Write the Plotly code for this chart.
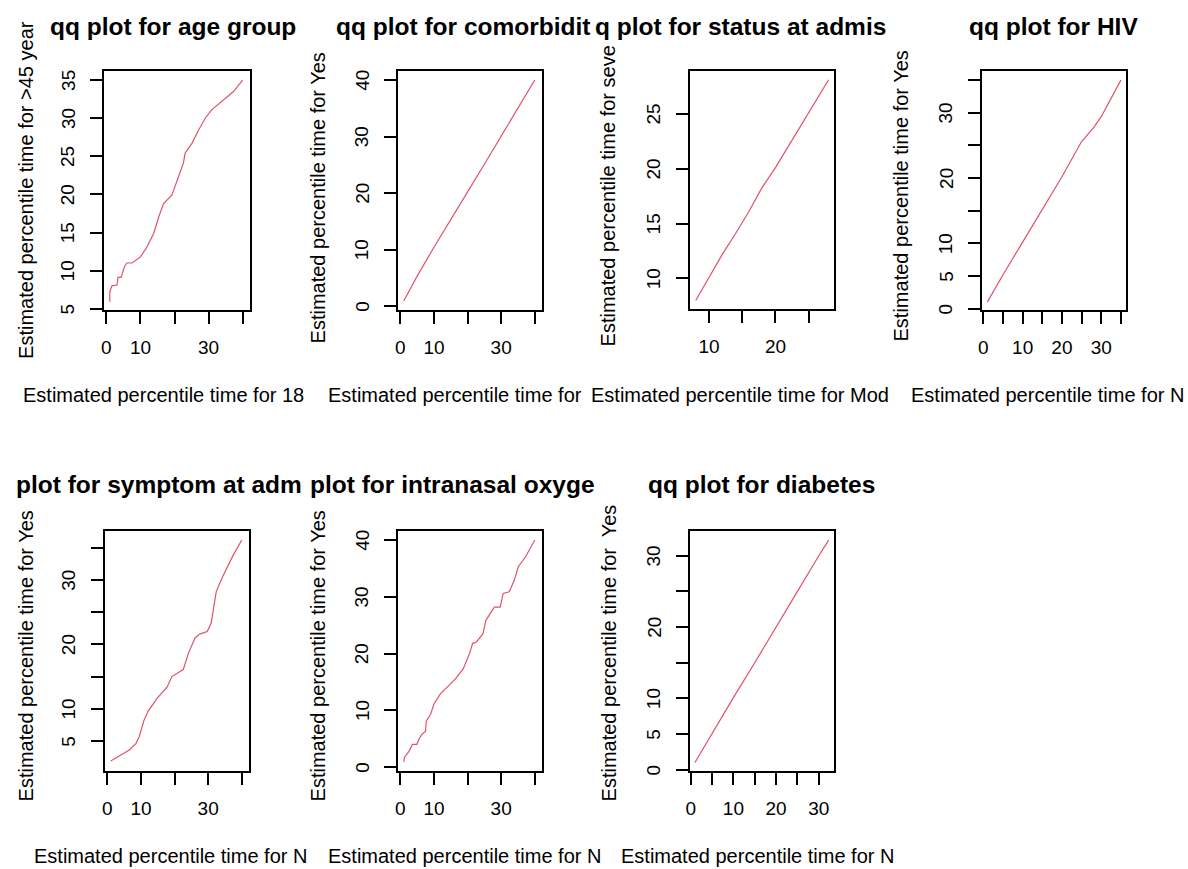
import plotly.graph_objects as go

W, H = 1188, 869
FONT = "Liberation Sans, Arial, sans-serif"
LINE_COLOR = "#DF536B"

# ---------------- data ----------------
age_x = [1.0, 1.0, 1.6, 3.1, 3.4, 4.3, 5.3, 6.0, 7.5, 10.0, 11.9, 13.9, 15.4, 16.8,
         19.2, 20.7, 22.6, 23.1, 25.1, 27.0, 29.0, 30.9, 33.9, 37.3, 40.0]
age_y = [5.9, 7.2, 8.0, 8.1, 9.1, 9.1, 10.5, 11.0, 11.0, 11.8, 13.1, 14.9, 17.1, 18.8,
         19.9, 21.7, 24.1, 25.4, 26.7, 28.4, 30.0, 31.1, 32.2, 33.5, 35.0]

comorb_x = [1, 5, 10, 15, 20, 25, 30, 35, 40]
comorb_y = [0.9, 5.3, 10.4, 15.2, 20.2, 25.1, 30.0, 35.0, 40.0]

status_x = [8, 10, 12, 14, 16, 18, 20, 22, 24, 26, 28]
status_y = [8.0, 10.1, 12.2, 14.1, 16.1, 18.3, 20.1, 22.1, 24.1, 26.1, 28.1]

hiv_x = [1, 5, 10, 15, 20, 25, 28, 30, 35]
hiv_y = [1.0, 5.2, 10.2, 15.1, 20.2, 25.6, 27.7, 29.4, 35.0]

symptom_x = [1.0, 4.1, 6.5, 8.5, 9.5, 10.9, 12.1, 14.8, 17.8, 19.2, 20.7, 22.6, 24.1,
             26.1, 27.5, 29.7, 30.9, 31.6, 32.4, 34.3, 37.3, 40.0]
symptom_y = [1.9, 2.8, 3.6, 4.6, 5.7, 8.2, 9.6, 11.6, 13.4, 15.0, 15.5, 16.1, 18.6,
             21.0, 21.6, 22.0, 23.3, 25.9, 28.2, 30.5, 33.7, 36.2]

oxygen_x = [1.0, 1.2, 2.6, 3.6, 4.9, 5.6, 6.5, 7.5, 7.7, 9.0, 10.0, 11.9, 14.3, 16.3,
            18.7, 19.7, 20.7, 21.5, 22.6, 24.6, 25.4, 27.0, 28.0, 29.7, 30.6, 32.4,
            33.9, 35.1, 37.3, 40.0]
oxygen_y = [0.9, 1.7, 2.8, 4.0, 4.0, 5.0, 5.8, 6.3, 8.1, 9.3, 11.1, 12.9, 14.3, 15.5,
            17.3, 18.8, 20.2, 21.8, 22.0, 23.5, 25.8, 27.3, 28.2, 28.2, 30.6, 30.9,
            32.9, 35.3, 37.1, 40.0]

diab_x = [1, 5, 10, 15, 20, 25, 30, 32.3]
diab_y = [1.0, 5.1, 10.1, 15.0, 20.1, 25.0, 30.0, 32.2]

titles = ["qq plot for age group", "qq plot for comorbidit", "q plot for status at admis",
          "qq plot for HIV", "plot for symptom at adm", "plot for intranasal oxyge",
          "qq plot for diabetes"]
xtitles = ["Estimated percentile time for 18", "Estimated percentile time for",
           "Estimated percentile time for Mod", "Estimated percentile time for N",
           "Estimated percentile time for N", "Estimated percentile time for N",
           "Estimated percentile time for N"]
ytitles = ["Estimated percentile time for >45 year", "Estimated percentile time for Yes",
           "Estimated percentile time for seve", "Estimated percentile time for Yes",
           "Estimated percentile time for Yes", "Estimated percentile time for Yes",
           "Estimated percentile time for  Yes"]

# tick values and the labels R managed to print
x_ticks_40 = [0, 10, 20, 30, 40]
x_labels_40 = ["0", "10", "", "30", ""]
y_ticks_35 = [5, 10, 15, 20, 25, 30, 35]
y_labels_35 = ["5", "10", "15", "20", "25", "30", "35"]
y_ticks_40 = [0, 10, 20, 30, 40]
y_labels_40 = ["0", "10", "20", "30", "40"]
status_ticks = [10, 15, 20, 25]
status_xlabels = ["10", "", "20", ""]
status_ylabels = ["10", "15", "20", "25"]
ticks_by5_35 = [0, 5, 10, 15, 20, 25, 30, 35]
hiv_xlabels = ["0", "", "10", "", "20", "", "30", ""]
hiv_ylabels = ["0", "5", "10", "", "20", "", "30", ""]
symptom_yticks = [5, 10, 15, 20, 25, 30, 35]
symptom_ylabels = ["5", "10", "", "20", "", "30", ""]
ticks_by5_30 = [0, 5, 10, 15, 20, 25, 30]
diab_xlabels = ["0", "", "10", "", "20", "", "30"]
diab_ylabels = ["0", "5", "10", "", "20", "", "30"]

# ---------------- layout geometry (pixels) ----------------
panels = [
    dict(x=age_x, y=age_y, box=(100, 247, 71, 310), xr=[-0.8, 42.2], yr=[4.83, 36.2],
         xt=(x_ticks_40, x_labels_40), yt=(y_ticks_35, y_labels_35)),
    dict(x=comorb_x, y=comorb_y, box=(395, 540, 71, 310), xr=[-0.8, 42.2], yr=[-0.7, 41.6],
         xt=(x_ticks_40, x_labels_40), yt=(y_ticks_40, y_labels_40)),
    dict(x=status_x, y=status_y, box=(688, 833, 71, 309), xr=[7.09, 28.84], yr=[7.22, 28.9],
         xt=(status_ticks, status_xlabels), yt=(status_ticks, status_ylabels)),
    dict(x=hiv_x, y=hiv_y, box=(981, 1126, 71, 310), xr=[-0.42, 36.36], yr=[-0.2, 36.4],
         xt=(ticks_by5_35, hiv_xlabels), yt=(ticks_by5_35, hiv_ylabels)),
    dict(x=symptom_x, y=symptom_y, box=(101, 246, 531, 771), xr=[-0.8, 42.2], yr=[0.34, 37.6],
         xt=(x_ticks_40, x_labels_40), yt=(symptom_yticks, symptom_ylabels)),
    dict(x=oxygen_x, y=oxygen_y, box=(395, 540, 531, 771), xr=[-0.8, 42.2], yr=[-0.7, 41.6],
         xt=(x_ticks_40, x_labels_40), yt=(y_ticks_40, y_labels_40)),
    dict(x=diab_x, y=diab_y, box=(688, 833, 531, 771), xr=[-0.23, 33.6], yr=[-0.19, 33.47],
         xt=(ticks_by5_30, diab_xlabels), yt=(ticks_by5_30, diab_ylabels)),
]

# title / axis-title placement (pixels)
title_pos = [(44, 26, "left"), (331, 26, "left"), (591, 26, "left"), (1053.5, 26, "center"),
             (10, 484, "left"), (305, 484, "left"), (760.5, 484, "center")]
xtitle_pos = [(17, 395), (323, 395), (587, 395), (908, 395),
              (28, 856), (323, 856), (617, 856)]
ytitle_pos = [(22, 361), (315, 345), (607, 348), (900, 343),
              (22, 803), (315, 803), (607, 803)]
YLABEL_OFFSET = 36  # px from box left edge to centre of rotated y tick labels


def px(xp):
    return xp / W


def py(yp):
    return 1 - yp / H


fig = go.Figure()
layout = dict(width=W, height=H, margin=dict(l=0, r=0, t=0, b=0),
              paper_bgcolor="white", plot_bgcolor="white", showlegend=False,
              font=dict(family=FONT, color="black"))
annotations = []

for i, p in enumerate(panels):
    n = "" if i == 0 else str(i + 1)
    fig.add_trace(go.Scatter(x=p["x"], y=p["y"], mode="lines",
                             line=dict(color=LINE_COLOR, width=1.2),
                             xaxis="x" + n, yaxis="y" + n, hoverinfo="skip"))
    l, r, t, b = p["box"]
    layout["xaxis" + n] = dict(
        domain=[px(l), px(r)], anchor="y" + n, range=p["xr"],
        tickmode="array", tickvals=p["xt"][0], ticktext=p["xt"][1],
        ticks="outside", ticklen=12, tickwidth=1.5, tickcolor="black",
        showline=True, linecolor="black", linewidth=1.5, mirror=True,
        showgrid=False, zeroline=False, tickfont=dict(size=19, family=FONT, color="black"),
        ticklabelstandoff=7)
    layout["yaxis" + n] = dict(
        domain=[py(b), py(t)], anchor="x" + n, range=p["yr"],
        tickmode="array", tickvals=p["yt"][0], showticklabels=False,
        ticks="outside", ticklen=12, tickwidth=1.5, tickcolor="black",
        showline=True, linecolor="black", linewidth=1.5, mirror=True,
        showgrid=False, zeroline=False)
    # rotated y tick labels (R style), placed at their axis values
    for v, lab in zip(p["yt"][0], p["yt"][1]):
        if lab:
            annotations.append(dict(text=lab, x=px(l - YLABEL_OFFSET), y=v,
                                    xref="paper", yref="y" + n, xanchor="center",
                                    yanchor="middle", textangle=-90, showarrow=False,
                                    font=dict(size=19, family=FONT, color="black")))

    tx, ty, anc = title_pos[i]
    annotations.append(dict(text="<b>" + titles[i] + "</b>", x=px(tx), y=py(ty),
                            xref="paper", yref="paper", xanchor=anc, yanchor="middle",
                            showarrow=False, font=dict(size=24.5, family=FONT, color="black")))
    xx, xy = xtitle_pos[i]
    annotations.append(dict(text=xtitles[i], x=px(xx), y=py(xy), xref="paper", yref="paper",
                            xanchor="left", yanchor="middle", showarrow=False,
                            font=dict(size=20, family=FONT, color="black")))
    yx, yy = ytitle_pos[i]
    annotations.append(dict(text=ytitles[i], x=px(yx), y=py(yy), xref="paper", yref="paper",
                            xanchor="center", yanchor="bottom", textangle=-90,
                            showarrow=False, font=dict(size=20, family=FONT, color="black")))

layout["annotations"] = annotations
fig.update_layout(**layout)
fig.write_html("out.html")
